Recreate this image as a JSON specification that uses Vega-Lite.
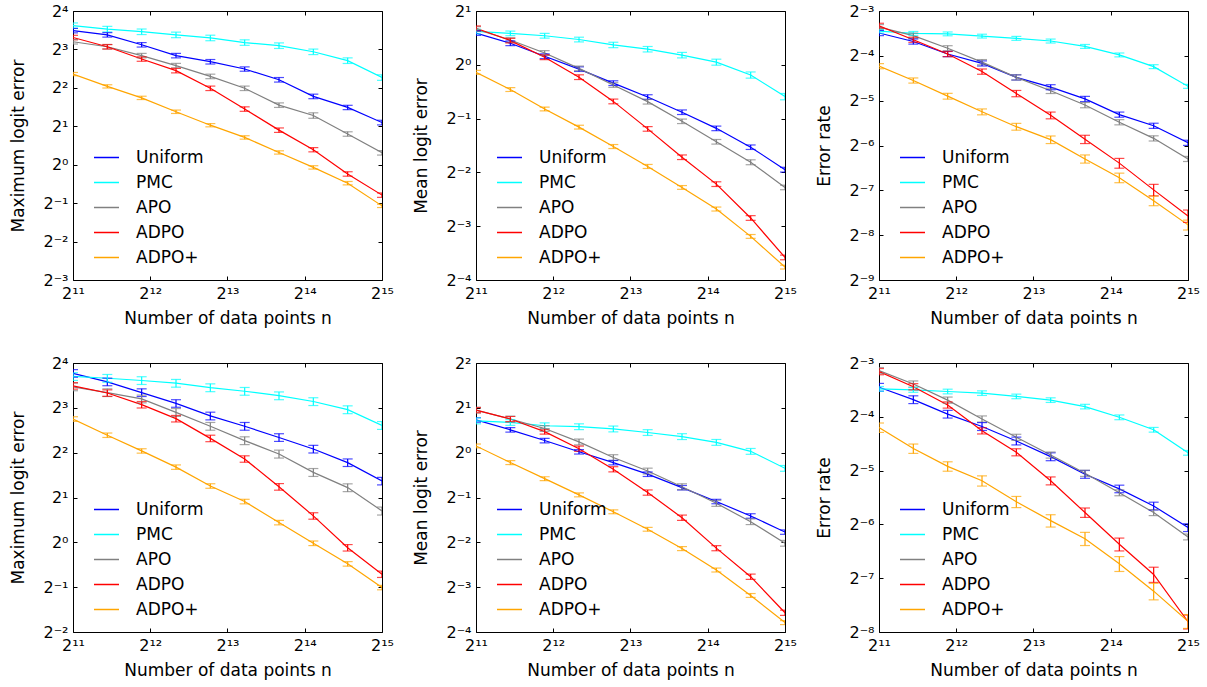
{
"$schema": "https://vega.github.io/schema/vega-lite/v6.json",
"background": "white",
"padding": {"left": 9, "top": 2, "right": 5, "bottom": 5},
"config": {
  "font": "DejaVu Sans",
  "view": {"stroke": "black", "strokeWidth": 1},
  "axis": {"grid": false, "domain": false, "tickColor": "black", "tickSize": -4, "tickWidth": 1, "labelFont": "DejaVu Sans", "labelFontSize": 16, "labelColor": "black", "titleFont": "DejaVu Sans", "titleFontSize": 17, "titleFontWeight": "normal", "titleColor": "black", "labelPadding": 9},
  "axisX": {"titlePadding": 9},
  "axisY": {"titlePadding": 15},
  "legend": {"labelFont": "DejaVu Sans", "labelFontSize": 17, "labelColor": "black"}
},
"data": {"values": [
{"p":1,"s":"Uniform","n":2048,"y":11.24,"e":0.45},{"p":1,"s":"Uniform","n":2787,"y":10.41,"e":0.42},{"p":1,"s":"Uniform","n":3792,"y":8.70,"e":0.35},{"p":1,"s":"Uniform","n":5161,"y":7.16,"e":0.29},{"p":1,"s":"Uniform","n":7023,"y":6.41,"e":0.26},{"p":1,"s":"Uniform","n":9556,"y":5.62,"e":0.22},{"p":1,"s":"Uniform","n":13004,"y":4.63,"e":0.19},{"p":1,"s":"Uniform","n":17697,"y":3.43,"e":0.14},{"p":1,"s":"Uniform","n":24080,"y":2.81,"e":0.11},{"p":1,"s":"Uniform","n":32768,"y":2.14,"e":0.09},
{"p":1,"s":"PMC","n":2048,"y":12.30,"e":0.6},{"p":1,"s":"PMC","n":2787,"y":11.55,"e":0.58},{"p":1,"s":"PMC","n":3792,"y":11.01,"e":0.55},{"p":1,"s":"PMC","n":5161,"y":10.41,"e":0.52},{"p":1,"s":"PMC","n":7023,"y":9.85,"e":0.49},{"p":1,"s":"PMC","n":9556,"y":9.06,"e":0.45},{"p":1,"s":"PMC","n":13004,"y":8.57,"e":0.43},{"p":1,"s":"PMC","n":17697,"y":7.67,"e":0.38},{"p":1,"s":"PMC","n":24080,"y":6.54,"e":0.33},{"p":1,"s":"PMC","n":32768,"y":4.82,"e":0.24},
{"p":1,"s":"APO","n":2048,"y":9.19,"e":0.37},{"p":1,"s":"APO","n":2787,"y":8.40,"e":0.34},{"p":1,"s":"APO","n":3792,"y":7.16,"e":0.29},{"p":1,"s":"APO","n":5161,"y":5.98,"e":0.24},{"p":1,"s":"APO","n":7023,"y":4.92,"e":0.2},{"p":1,"s":"APO","n":9556,"y":3.97,"e":0.16},{"p":1,"s":"APO","n":13004,"y":2.93,"e":0.12},{"p":1,"s":"APO","n":17697,"y":2.43,"e":0.12},{"p":1,"s":"APO","n":24080,"y":1.741,"e":0.07},{"p":1,"s":"APO","n":32768,"y":1.240,"e":0.05},
{"p":1,"s":"ADPO","n":2048,"y":9.92,"e":0.4},{"p":1,"s":"ADPO","n":2787,"y":8.40,"e":0.34},{"p":1,"s":"ADPO","n":3792,"y":6.73,"e":0.27},{"p":1,"s":"ADPO","n":5161,"y":5.46,"e":0.22},{"p":1,"s":"ADPO","n":7023,"y":3.97,"e":0.16},{"p":1,"s":"ADPO","n":9556,"y":2.73,"e":0.11},{"p":1,"s":"ADPO","n":13004,"y":1.866,"e":0.075},{"p":1,"s":"ADPO","n":17697,"y":1.311,"e":0.05},{"p":1,"s":"ADPO","n":24080,"y":0.847,"e":0.034},{"p":1,"s":"ADPO","n":32768,"y":0.578,"e":0.023},
{"p":1,"s":"ADPO+","n":2048,"y":5.13,"e":0.15},{"p":1,"s":"ADPO+","n":2787,"y":4.11,"e":0.12},{"p":1,"s":"ADPO+","n":3792,"y":3.34,"e":0.1},{"p":1,"s":"ADPO+","n":5161,"y":2.60,"e":0.08},{"p":1,"s":"ADPO+","n":7023,"y":2.04,"e":0.06},{"p":1,"s":"ADPO+","n":9556,"y":1.636,"e":0.05},{"p":1,"s":"ADPO+","n":13004,"y":1.248,"e":0.037},{"p":1,"s":"ADPO+","n":17697,"y":0.953,"e":0.029},{"p":1,"s":"ADPO+","n":24080,"y":0.717,"e":0.022},{"p":1,"s":"ADPO+","n":32768,"y":0.476,"e":0.014},

{"p":2,"s":"Uniform","n":2048,"y":1.505,"e":0.045},{"p":2,"s":"Uniform","n":2787,"y":1.320,"e":0.04},{"p":2,"s":"Uniform","n":3792,"y":1.117,"e":0.034},{"p":2,"s":"Uniform","n":5161,"y":0.946,"e":0.028},{"p":2,"s":"Uniform","n":7023,"y":0.790,"e":0.024},{"p":2,"s":"Uniform","n":9556,"y":0.660,"e":0.02},{"p":2,"s":"Uniform","n":13004,"y":0.543,"e":0.016},{"p":2,"s":"Uniform","n":17697,"y":0.441,"e":0.013},{"p":2,"s":"Uniform","n":24080,"y":0.346,"e":0.01},{"p":2,"s":"Uniform","n":32768,"y":0.259,"e":0.008},
{"p":2,"s":"PMC","n":2048,"y":1.537,"e":0.046},{"p":2,"s":"PMC","n":2787,"y":1.500,"e":0.045},{"p":2,"s":"PMC","n":3792,"y":1.454,"e":0.044},{"p":2,"s":"PMC","n":5161,"y":1.385,"e":0.042},{"p":2,"s":"PMC","n":7023,"y":1.292,"e":0.045},{"p":2,"s":"PMC","n":9556,"y":1.223,"e":0.043},{"p":2,"s":"PMC","n":13004,"y":1.133,"e":0.04},{"p":2,"s":"PMC","n":17697,"y":1.035,"e":0.04},{"p":2,"s":"PMC","n":24080,"y":0.877,"e":0.035},{"p":2,"s":"PMC","n":32768,"y":0.664,"e":0.027},
{"p":2,"s":"APO","n":2048,"y":1.586,"e":0.048},{"p":2,"s":"APO","n":2787,"y":1.376,"e":0.041},{"p":2,"s":"APO","n":3792,"y":1.165,"e":0.035},{"p":2,"s":"APO","n":5161,"y":0.955,"e":0.029},{"p":2,"s":"APO","n":7023,"y":0.771,"e":0.023},{"p":2,"s":"APO","n":9556,"y":0.622,"e":0.019},{"p":2,"s":"APO","n":13004,"y":0.483,"e":0.014},{"p":2,"s":"APO","n":17697,"y":0.371,"e":0.011},{"p":2,"s":"APO","n":24080,"y":0.285,"e":0.009},{"p":2,"s":"APO","n":32768,"y":0.206,"e":0.006},
{"p":2,"s":"ADPO","n":2048,"y":1.602,"e":0.048},{"p":2,"s":"ADPO","n":2787,"y":1.366,"e":0.041},{"p":2,"s":"ADPO","n":3792,"y":1.102,"e":0.033},{"p":2,"s":"ADPO","n":5161,"y":0.853,"e":0.026},{"p":2,"s":"ADPO","n":7023,"y":0.624,"e":0.019},{"p":2,"s":"ADPO","n":9556,"y":0.438,"e":0.013},{"p":2,"s":"ADPO","n":13004,"y":0.304,"e":0.009},{"p":2,"s":"ADPO","n":17697,"y":0.215,"e":0.0065},{"p":2,"s":"ADPO","n":24080,"y":0.139,"e":0.0042},{"p":2,"s":"ADPO","n":32768,"y":0.0836,"e":0.0025},
{"p":2,"s":"ADPO+","n":2048,"y":0.908,"e":0.023},{"p":2,"s":"ADPO+","n":2787,"y":0.727,"e":0.018},{"p":2,"s":"ADPO+","n":3792,"y":0.566,"e":0.014},{"p":2,"s":"ADPO+","n":5161,"y":0.448,"e":0.011},{"p":2,"s":"ADPO+","n":7023,"y":0.349,"e":0.009},{"p":2,"s":"ADPO+","n":9556,"y":0.270,"e":0.007},{"p":2,"s":"ADPO+","n":13004,"y":0.206,"e":0.005},{"p":2,"s":"ADPO+","n":17697,"y":0.156,"e":0.004},{"p":2,"s":"ADPO+","n":24080,"y":0.1096,"e":0.0027},{"p":2,"s":"ADPO+","n":32768,"y":0.0738,"e":0.0018},

{"p":3,"s":"Uniform","n":2048,"y":0.0890,"e":0.0036},{"p":3,"s":"Uniform","n":2787,"y":0.0780,"e":0.0031},{"p":3,"s":"Uniform","n":3792,"y":0.0643,"e":0.0026},{"p":3,"s":"Uniform","n":5161,"y":0.0556,"e":0.0022},{"p":3,"s":"Uniform","n":7023,"y":0.0448,"e":0.0018},{"p":3,"s":"Uniform","n":9556,"y":0.0385,"e":0.0015},{"p":3,"s":"Uniform","n":13004,"y":0.0321,"e":0.0013},{"p":3,"s":"Uniform","n":17697,"y":0.0252,"e":0.001},{"p":3,"s":"Uniform","n":24080,"y":0.0212,"e":0.00085},{"p":3,"s":"Uniform","n":32768,"y":0.0163,"e":0.00065},
{"p":3,"s":"PMC","n":2048,"y":0.0915,"e":0.0027},{"p":3,"s":"PMC","n":2787,"y":0.0884,"e":0.0027},{"p":3,"s":"PMC","n":3792,"y":0.0878,"e":0.0026},{"p":3,"s":"PMC","n":5161,"y":0.0848,"e":0.0025},{"p":3,"s":"PMC","n":7023,"y":0.0819,"e":0.0025},{"p":3,"s":"PMC","n":9556,"y":0.0786,"e":0.0024},{"p":3,"s":"PMC","n":13004,"y":0.0723,"e":0.0022},{"p":3,"s":"PMC","n":17697,"y":0.0634,"e":0.0019},{"p":3,"s":"PMC","n":24080,"y":0.0529,"e":0.0016},{"p":3,"s":"PMC","n":32768,"y":0.0390,"e":0.0012},
{"p":3,"s":"APO","n":2048,"y":0.0974,"e":0.0039},{"p":3,"s":"APO","n":2787,"y":0.0854,"e":0.0034},{"p":3,"s":"APO","n":3792,"y":0.0703,"e":0.0028},{"p":3,"s":"APO","n":5161,"y":0.0567,"e":0.0023},{"p":3,"s":"APO","n":7023,"y":0.0448,"e":0.0018},{"p":3,"s":"APO","n":9556,"y":0.0364,"e":0.0015},{"p":3,"s":"APO","n":13004,"y":0.0292,"e":0.0012},{"p":3,"s":"APO","n":17697,"y":0.0224,"e":0.0009},{"p":3,"s":"APO","n":24080,"y":0.01745,"e":0.0007},{"p":3,"s":"APO","n":32768,"y":0.0127,"e":0.0005},
{"p":3,"s":"ADPO","n":2048,"y":0.0994,"e":0.004},{"p":3,"s":"ADPO","n":2787,"y":0.0802,"e":0.0032},{"p":3,"s":"ADPO","n":3792,"y":0.0643,"e":0.0026},{"p":3,"s":"ADPO","n":5161,"y":0.0490,"e":0.002},{"p":3,"s":"ADPO","n":7023,"y":0.0349,"e":0.0017},{"p":3,"s":"ADPO","n":9556,"y":0.0249,"e":0.0013},{"p":3,"s":"ADPO","n":13004,"y":0.0172,"e":0.0011},{"p":3,"s":"ADPO","n":17697,"y":0.0119,"e":0.0009},{"p":3,"s":"ADPO","n":24080,"y":0.00787,"e":0.0007},{"p":3,"s":"ADPO","n":32768,"y":0.00526,"e":0.0005},
{"p":3,"s":"ADPO+","n":2048,"y":0.0533,"e":0.0021},{"p":3,"s":"ADPO+","n":2787,"y":0.0427,"e":0.0017},{"p":3,"s":"ADPO+","n":3792,"y":0.0335,"e":0.0015},{"p":3,"s":"ADPO+","n":5161,"y":0.0263,"e":0.0012},{"p":3,"s":"ADPO+","n":7023,"y":0.0209,"e":0.0011},{"p":3,"s":"ADPO+","n":9556,"y":0.0171,"e":0.001},{"p":3,"s":"ADPO+","n":13004,"y":0.0127,"e":0.0008},{"p":3,"s":"ADPO+","n":17697,"y":0.00949,"e":0.0007},{"p":3,"s":"ADPO+","n":24080,"y":0.00666,"e":0.0005},{"p":3,"s":"ADPO+","n":32768,"y":0.00458,"e":0.00035},

{"p":4,"s":"Uniform","n":2048,"y":13.64,"e":0.8},{"p":4,"s":"Uniform","n":2787,"y":11.96,"e":0.7},{"p":4,"s":"Uniform","n":3792,"y":10.13,"e":0.6},{"p":4,"s":"Uniform","n":5161,"y":8.57,"e":0.5},{"p":4,"s":"Uniform","n":7023,"y":7.06,"e":0.42},{"p":4,"s":"Uniform","n":9556,"y":6.02,"e":0.36},{"p":4,"s":"Uniform","n":13004,"y":5.06,"e":0.3},{"p":4,"s":"Uniform","n":17697,"y":4.23,"e":0.25},{"p":4,"s":"Uniform","n":24080,"y":3.43,"e":0.2},{"p":4,"s":"Uniform","n":32768,"y":2.58,"e":0.15},
{"p":4,"s":"PMC","n":2048,"y":13.0,"e":0.78},{"p":4,"s":"PMC","n":2787,"y":12.64,"e":0.76},{"p":4,"s":"PMC","n":3792,"y":12.21,"e":0.73},{"p":4,"s":"PMC","n":5161,"y":11.71,"e":0.7},{"p":4,"s":"PMC","n":7023,"y":10.93,"e":0.66},{"p":4,"s":"PMC","n":9556,"y":10.34,"e":0.62},{"p":4,"s":"PMC","n":13004,"y":9.65,"e":0.58},{"p":4,"s":"PMC","n":17697,"y":8.82,"e":0.53},{"p":4,"s":"PMC","n":24080,"y":7.78,"e":0.47},{"p":4,"s":"PMC","n":32768,"y":6.10,"e":0.37},
{"p":4,"s":"APO","n":2048,"y":11.08,"e":0.66},{"p":4,"s":"APO","n":2787,"y":10.13,"e":0.6},{"p":4,"s":"APO","n":3792,"y":9.19,"e":0.55},{"p":4,"s":"APO","n":5161,"y":7.46,"e":0.45},{"p":4,"s":"APO","n":7023,"y":6.02,"e":0.36},{"p":4,"s":"APO","n":9556,"y":4.82,"e":0.29},{"p":4,"s":"APO","n":13004,"y":3.92,"e":0.24},{"p":4,"s":"APO","n":17697,"y":2.95,"e":0.18},{"p":4,"s":"APO","n":24080,"y":2.33,"e":0.14},{"p":4,"s":"APO","n":32768,"y":1.625,"e":0.1},
{"p":4,"s":"ADPO","n":2048,"y":11.24,"e":0.56},{"p":4,"s":"ADPO","n":2787,"y":10.06,"e":0.5},{"p":4,"s":"ADPO","n":3792,"y":8.40,"e":0.42},{"p":4,"s":"ADPO","n":5161,"y":6.77,"e":0.34},{"p":4,"s":"ADPO","n":7023,"y":4.99,"e":0.25},{"p":4,"s":"ADPO","n":9556,"y":3.63,"e":0.18},{"p":4,"s":"ADPO","n":13004,"y":2.36,"e":0.12},{"p":4,"s":"ADPO","n":17697,"y":1.505,"e":0.075},{"p":4,"s":"ADPO","n":24080,"y":0.920,"e":0.046},{"p":4,"s":"ADPO","n":32768,"y":0.611,"e":0.03},
{"p":4,"s":"ADPO+","n":2048,"y":6.73,"e":0.24},{"p":4,"s":"ADPO+","n":2787,"y":5.24,"e":0.18},{"p":4,"s":"ADPO+","n":3792,"y":4.11,"e":0.14},{"p":4,"s":"ADPO+","n":5161,"y":3.20,"e":0.11},{"p":4,"s":"ADPO+","n":7023,"y":2.39,"e":0.084},{"p":4,"s":"ADPO+","n":9556,"y":1.879,"e":0.066},{"p":4,"s":"ADPO+","n":13004,"y":1.357,"e":0.047},{"p":4,"s":"ADPO+","n":17697,"y":0.986,"e":0.035},{"p":4,"s":"ADPO+","n":24080,"y":0.717,"e":0.025},{"p":4,"s":"ADPO+","n":32768,"y":0.497,"e":0.017},

{"p":5,"s":"Uniform","n":2048,"y":1.659,"e":0.058},{"p":5,"s":"Uniform","n":2787,"y":1.424,"e":0.05},{"p":5,"s":"Uniform","n":3792,"y":1.206,"e":0.042},{"p":5,"s":"Uniform","n":5161,"y":1.014,"e":0.035},{"p":5,"s":"Uniform","n":7023,"y":0.858,"e":0.03},{"p":5,"s":"Uniform","n":9556,"y":0.717,"e":0.025},{"p":5,"s":"Uniform","n":13004,"y":0.582,"e":0.02},{"p":5,"s":"Uniform","n":17697,"y":0.470,"e":0.016},{"p":5,"s":"Uniform","n":24080,"y":0.376,"e":0.013},{"p":5,"s":"Uniform","n":32768,"y":0.293,"e":0.01},
{"p":5,"s":"PMC","n":2048,"y":1.636,"e":0.074},{"p":5,"s":"PMC","n":2787,"y":1.597,"e":0.072},{"p":5,"s":"PMC","n":3792,"y":1.516,"e":0.068},{"p":5,"s":"PMC","n":5161,"y":1.495,"e":0.067},{"p":5,"s":"PMC","n":7023,"y":1.444,"e":0.065},{"p":5,"s":"PMC","n":9556,"y":1.366,"e":0.061},{"p":5,"s":"PMC","n":13004,"y":1.283,"e":0.058},{"p":5,"s":"PMC","n":17697,"y":1.173,"e":0.053},{"p":5,"s":"PMC","n":24080,"y":1.021,"e":0.046},{"p":5,"s":"PMC","n":32768,"y":0.785,"e":0.035},
{"p":5,"s":"APO","n":2048,"y":1.932,"e":0.087},{"p":5,"s":"APO","n":2787,"y":1.682,"e":0.076},{"p":5,"s":"APO","n":3792,"y":1.454,"e":0.065},{"p":5,"s":"APO","n":5161,"y":1.181,"e":0.053},{"p":5,"s":"APO","n":7023,"y":0.927,"e":0.042},{"p":5,"s":"APO","n":9556,"y":0.753,"e":0.034},{"p":5,"s":"APO","n":13004,"y":0.591,"e":0.027},{"p":5,"s":"APO","n":17697,"y":0.457,"e":0.021},{"p":5,"s":"APO","n":24080,"y":0.344,"e":0.015},{"p":5,"s":"APO","n":32768,"y":0.2466,"e":0.011},
{"p":5,"s":"ADPO","n":2048,"y":1.932,"e":0.077},{"p":5,"s":"ADPO","n":2787,"y":1.682,"e":0.067},{"p":5,"s":"ADPO","n":3792,"y":1.385,"e":0.055},{"p":5,"s":"ADPO","n":5161,"y":1.064,"e":0.043},{"p":5,"s":"ADPO","n":7023,"y":0.774,"e":0.031},{"p":5,"s":"ADPO","n":9556,"y":0.540,"e":0.022},{"p":5,"s":"ADPO","n":13004,"y":0.366,"e":0.015},{"p":5,"s":"ADPO","n":17697,"y":0.2285,"e":0.009},{"p":5,"s":"ADPO","n":24080,"y":0.147,"e":0.006},{"p":5,"s":"ADPO","n":32768,"y":0.0842,"e":0.0034},
{"p":5,"s":"ADPO+","n":2048,"y":1.110,"e":0.033},{"p":5,"s":"ADPO+","n":2787,"y":0.858,"e":0.026},{"p":5,"s":"ADPO+","n":3792,"y":0.669,"e":0.02},{"p":5,"s":"ADPO+","n":5161,"y":0.521,"e":0.016},{"p":5,"s":"ADPO+","n":7023,"y":0.401,"e":0.012},{"p":5,"s":"ADPO+","n":9556,"y":0.306,"e":0.009},{"p":5,"s":"ADPO+","n":13004,"y":0.227,"e":0.007},{"p":5,"s":"ADPO+","n":17697,"y":0.163,"e":0.005},{"p":5,"s":"ADPO+","n":24080,"y":0.110,"e":0.0033},{"p":5,"s":"ADPO+","n":32768,"y":0.0723,"e":0.0022},

{"p":6,"s":"Uniform","n":2048,"y":0.0915,"e":0.0046},{"p":6,"s":"Uniform","n":2787,"y":0.0780,"e":0.0039},{"p":6,"s":"Uniform","n":3792,"y":0.0647,"e":0.0032},{"p":6,"s":"Uniform","n":5161,"y":0.0552,"e":0.0028},{"p":6,"s":"Uniform","n":7023,"y":0.0458,"e":0.0023},{"p":6,"s":"Uniform","n":9556,"y":0.0374,"e":0.0019},{"p":6,"s":"Uniform","n":13004,"y":0.0298,"e":0.0015},{"p":6,"s":"Uniform","n":17697,"y":0.0247,"e":0.0012},{"p":6,"s":"Uniform","n":24080,"y":0.0198,"e":0.001},{"p":6,"s":"Uniform","n":32768,"y":0.0150,"e":0.00075},
{"p":6,"s":"PMC","n":2048,"y":0.0896,"e":0.0027},{"p":6,"s":"PMC","n":2787,"y":0.0884,"e":0.0027},{"p":6,"s":"PMC","n":3792,"y":0.0866,"e":0.0026},{"p":6,"s":"PMC","n":5161,"y":0.0848,"e":0.0025},{"p":6,"s":"PMC","n":7023,"y":0.0813,"e":0.0024},{"p":6,"s":"PMC","n":9556,"y":0.0775,"e":0.0023},{"p":6,"s":"PMC","n":13004,"y":0.0713,"e":0.0021},{"p":6,"s":"PMC","n":17697,"y":0.0621,"e":0.0019},{"p":6,"s":"PMC","n":24080,"y":0.0529,"e":0.0016},{"p":6,"s":"PMC","n":32768,"y":0.0393,"e":0.0012},
{"p":6,"s":"APO","n":2048,"y":0.1134,"e":0.0045},{"p":6,"s":"APO","n":2787,"y":0.0954,"e":0.0038},{"p":6,"s":"APO","n":3792,"y":0.0775,"e":0.0031},{"p":6,"s":"APO","n":5161,"y":0.0608,"e":0.0024},{"p":6,"s":"APO","n":7023,"y":0.0480,"e":0.0019},{"p":6,"s":"APO","n":9556,"y":0.0382,"e":0.0015},{"p":6,"s":"APO","n":13004,"y":0.0302,"e":0.0012},{"p":6,"s":"APO","n":17697,"y":0.0235,"e":0.0009},{"p":6,"s":"APO","n":24080,"y":0.0182,"e":0.0007},{"p":6,"s":"APO","n":32768,"y":0.0133,"e":0.0005},
{"p":6,"s":"ADPO","n":2048,"y":0.1119,"e":0.0045},{"p":6,"s":"ADPO","n":2787,"y":0.0921,"e":0.0037},{"p":6,"s":"ADPO","n":3792,"y":0.0728,"e":0.0029},{"p":6,"s":"ADPO","n":5161,"y":0.0522,"e":0.0021},{"p":6,"s":"ADPO","n":7023,"y":0.0396,"e":0.0018},{"p":6,"s":"ADPO","n":9556,"y":0.0274,"e":0.0014},{"p":6,"s":"ADPO","n":13004,"y":0.0182,"e":0.0011},{"p":6,"s":"ADPO","n":17697,"y":0.0121,"e":0.001},{"p":6,"s":"ADPO","n":24080,"y":0.00820,"e":0.0008},{"p":6,"s":"ADPO","n":32768,"y":0.00446,"e":0.0004},
{"p":6,"s":"ADPO+","n":2048,"y":0.0544,"e":0.0033},{"p":6,"s":"ADPO+","n":2787,"y":0.0415,"e":0.0025},{"p":6,"s":"ADPO+","n":3792,"y":0.0330,"e":0.002},{"p":6,"s":"ADPO+","n":5161,"y":0.0274,"e":0.0018},{"p":6,"s":"ADPO+","n":7023,"y":0.0209,"e":0.0015},{"p":6,"s":"ADPO+","n":9556,"y":0.0164,"e":0.0013},{"p":6,"s":"ADPO+","n":13004,"y":0.0130,"e":0.0011},{"p":6,"s":"ADPO+","n":17697,"y":0.00942,"e":0.0009},{"p":6,"s":"ADPO+","n":24080,"y":0.00661,"e":0.0007},{"p":6,"s":"ADPO+","n":32768,"y":0.00449,"e":0.0004}
]},
"columns": 3,
"spacing": {"row": 83, "column": 94},
"bounds": "flush",
"resolve": {"scale": {"x": "independent", "y": "independent", "color": "independent"}, "legend": {"color": "independent"}},
"concat": [
{"width": 309, "height": 269, "transform": [{"filter": "datum.p == 1"}], "layer": [
 {"mark": {"type": "line", "strokeWidth": 1.2, "clip": true}, "encoding": {
  "x": {"field": "n", "type": "quantitative", "scale": {"type": "log", "base": 2, "domain": [2048, 32768], "nice": false}, "axis": {"orient": "bottom", "values": [2048, 4096, 8192, 16384, 32768], "title": "Number of data points n", "labelFlush": false, "labelOverlap": false, "labelExpr": "'2' + (log(datum.value)/LN2 < -0.5 ? '⁻' : '') + (abs(round(log(datum.value)/LN2)) >= 10 ? '¹' : '') + slice('⁰¹²³⁴⁵⁶⁷⁸⁹', abs(round(log(datum.value)/LN2)) % 10, abs(round(log(datum.value)/LN2)) % 10 + 1)"}},
  "y": {"field": "y", "type": "quantitative", "scale": {"type": "log", "base": 2, "domain": [0.125, 16], "nice": false}, "axis": {"orient": "left", "values": [0.125, 0.25, 0.5, 1, 2, 4, 8, 16], "title": "Maximum logit error", "labelFlush": false, "labelOverlap": false, "labelExpr": "'2' + (log(datum.value)/LN2 < -0.5 ? '⁻' : '') + (abs(round(log(datum.value)/LN2)) >= 10 ? '¹' : '') + slice('⁰¹²³⁴⁵⁶⁷⁸⁹', abs(round(log(datum.value)/LN2)) % 10, abs(round(log(datum.value)/LN2)) % 10 + 1)"}},
  "color": {"field": "s", "type": "nominal", "scale": {"domain": ["Uniform", "PMC", "APO", "ADPO", "ADPO+"], "range": ["#0000ff", "#00ffff", "#808080", "#ff0000", "#ffa500"]}, "legend": {"title": null, "orient": "none", "legendX": 20, "legendY": 133, "symbolType": "stroke", "symbolSize": 625, "symbolStrokeWidth": 1.5, "labelOffset": 16, "rowPadding": 3, "padding": 0}}}},
 {"mark": {"type": "errorbar", "ticks": true, "size": 10, "thickness": 1.2, "clip": true}, "encoding": {
  "x": {"field": "n", "type": "quantitative", "scale": {"type": "log", "base": 2, "domain": [2048, 32768], "nice": false}, "axis": {"orient": "top", "labels": false, "title": null, "values": [2048, 4096, 8192, 16384, 32768]}},
  "y": {"field": "y", "type": "quantitative", "scale": {"type": "log", "base": 2, "domain": [0.125, 16], "nice": false}, "axis": {"orient": "right", "labels": false, "title": null, "values": [0.125, 0.25, 0.5, 1, 2, 4, 8, 16]}},
  "yError": {"field": "e"},
  "color": {"field": "s", "type": "nominal", "scale": {"domain": ["Uniform", "PMC", "APO", "ADPO", "ADPO+"], "range": ["#0000ff", "#00ffff", "#808080", "#ff0000", "#ffa500"]}, "legend": null}}}
]},
{"width": 309, "height": 269, "transform": [{"filter": "datum.p == 2"}], "layer": [
 {"mark": {"type": "line", "strokeWidth": 1.2, "clip": true}, "encoding": {
  "x": {"field": "n", "type": "quantitative", "scale": {"type": "log", "base": 2, "domain": [2048, 32768], "nice": false}, "axis": {"orient": "bottom", "values": [2048, 4096, 8192, 16384, 32768], "title": "Number of data points n", "labelFlush": false, "labelOverlap": false, "labelExpr": "'2' + (log(datum.value)/LN2 < -0.5 ? '⁻' : '') + (abs(round(log(datum.value)/LN2)) >= 10 ? '¹' : '') + slice('⁰¹²³⁴⁵⁶⁷⁸⁹', abs(round(log(datum.value)/LN2)) % 10, abs(round(log(datum.value)/LN2)) % 10 + 1)"}},
  "y": {"field": "y", "type": "quantitative", "scale": {"type": "log", "base": 2, "domain": [0.0625, 2], "nice": false}, "axis": {"orient": "left", "values": [0.0625, 0.125, 0.25, 0.5, 1, 2], "title": "Mean logit error", "labelFlush": false, "labelOverlap": false, "labelExpr": "'2' + (log(datum.value)/LN2 < -0.5 ? '⁻' : '') + (abs(round(log(datum.value)/LN2)) >= 10 ? '¹' : '') + slice('⁰¹²³⁴⁵⁶⁷⁸⁹', abs(round(log(datum.value)/LN2)) % 10, abs(round(log(datum.value)/LN2)) % 10 + 1)"}},
  "color": {"field": "s", "type": "nominal", "scale": {"domain": ["Uniform", "PMC", "APO", "ADPO", "ADPO+"], "range": ["#0000ff", "#00ffff", "#808080", "#ff0000", "#ffa500"]}, "legend": {"title": null, "orient": "none", "legendX": 20, "legendY": 133, "symbolType": "stroke", "symbolSize": 625, "symbolStrokeWidth": 1.5, "labelOffset": 16, "rowPadding": 3, "padding": 0}}}},
 {"mark": {"type": "errorbar", "ticks": true, "size": 10, "thickness": 1.2, "clip": true}, "encoding": {
  "x": {"field": "n", "type": "quantitative", "scale": {"type": "log", "base": 2, "domain": [2048, 32768], "nice": false}, "axis": {"orient": "top", "labels": false, "title": null, "values": [2048, 4096, 8192, 16384, 32768]}},
  "y": {"field": "y", "type": "quantitative", "scale": {"type": "log", "base": 2, "domain": [0.0625, 2], "nice": false}, "axis": {"orient": "right", "labels": false, "title": null, "values": [0.0625, 0.125, 0.25, 0.5, 1, 2]}},
  "yError": {"field": "e"},
  "color": {"field": "s", "type": "nominal", "scale": {"domain": ["Uniform", "PMC", "APO", "ADPO", "ADPO+"], "range": ["#0000ff", "#00ffff", "#808080", "#ff0000", "#ffa500"]}, "legend": null}}}
]},
{"width": 309, "height": 269, "transform": [{"filter": "datum.p == 3"}], "layer": [
 {"mark": {"type": "line", "strokeWidth": 1.2, "clip": true}, "encoding": {
  "x": {"field": "n", "type": "quantitative", "scale": {"type": "log", "base": 2, "domain": [2048, 32768], "nice": false}, "axis": {"orient": "bottom", "values": [2048, 4096, 8192, 16384, 32768], "title": "Number of data points n", "labelFlush": false, "labelOverlap": false, "labelExpr": "'2' + (log(datum.value)/LN2 < -0.5 ? '⁻' : '') + (abs(round(log(datum.value)/LN2)) >= 10 ? '¹' : '') + slice('⁰¹²³⁴⁵⁶⁷⁸⁹', abs(round(log(datum.value)/LN2)) % 10, abs(round(log(datum.value)/LN2)) % 10 + 1)"}},
  "y": {"field": "y", "type": "quantitative", "scale": {"type": "log", "base": 2, "domain": [0.001953125, 0.125], "nice": false}, "axis": {"orient": "left", "values": [0.001953125, 0.00390625, 0.0078125, 0.015625, 0.03125, 0.0625, 0.125], "title": "Error rate", "labelFlush": false, "labelOverlap": false, "labelExpr": "'2' + (log(datum.value)/LN2 < -0.5 ? '⁻' : '') + (abs(round(log(datum.value)/LN2)) >= 10 ? '¹' : '') + slice('⁰¹²³⁴⁵⁶⁷⁸⁹', abs(round(log(datum.value)/LN2)) % 10, abs(round(log(datum.value)/LN2)) % 10 + 1)"}},
  "color": {"field": "s", "type": "nominal", "scale": {"domain": ["Uniform", "PMC", "APO", "ADPO", "ADPO+"], "range": ["#0000ff", "#00ffff", "#808080", "#ff0000", "#ffa500"]}, "legend": {"title": null, "orient": "none", "legendX": 20, "legendY": 133, "symbolType": "stroke", "symbolSize": 625, "symbolStrokeWidth": 1.5, "labelOffset": 16, "rowPadding": 3, "padding": 0}}}},
 {"mark": {"type": "errorbar", "ticks": true, "size": 10, "thickness": 1.2, "clip": true}, "encoding": {
  "x": {"field": "n", "type": "quantitative", "scale": {"type": "log", "base": 2, "domain": [2048, 32768], "nice": false}, "axis": {"orient": "top", "labels": false, "title": null, "values": [2048, 4096, 8192, 16384, 32768]}},
  "y": {"field": "y", "type": "quantitative", "scale": {"type": "log", "base": 2, "domain": [0.001953125, 0.125], "nice": false}, "axis": {"orient": "right", "labels": false, "title": null, "values": [0.001953125, 0.00390625, 0.0078125, 0.015625, 0.03125, 0.0625, 0.125]}},
  "yError": {"field": "e"},
  "color": {"field": "s", "type": "nominal", "scale": {"domain": ["Uniform", "PMC", "APO", "ADPO", "ADPO+"], "range": ["#0000ff", "#00ffff", "#808080", "#ff0000", "#ffa500"]}, "legend": null}}}
]},
{"width": 309, "height": 269, "transform": [{"filter": "datum.p == 4"}], "layer": [
 {"mark": {"type": "line", "strokeWidth": 1.2, "clip": true}, "encoding": {
  "x": {"field": "n", "type": "quantitative", "scale": {"type": "log", "base": 2, "domain": [2048, 32768], "nice": false}, "axis": {"orient": "bottom", "values": [2048, 4096, 8192, 16384, 32768], "title": "Number of data points n", "labelFlush": false, "labelOverlap": false, "labelExpr": "'2' + (log(datum.value)/LN2 < -0.5 ? '⁻' : '') + (abs(round(log(datum.value)/LN2)) >= 10 ? '¹' : '') + slice('⁰¹²³⁴⁵⁶⁷⁸⁹', abs(round(log(datum.value)/LN2)) % 10, abs(round(log(datum.value)/LN2)) % 10 + 1)"}},
  "y": {"field": "y", "type": "quantitative", "scale": {"type": "log", "base": 2, "domain": [0.25, 16], "nice": false}, "axis": {"orient": "left", "values": [0.25, 0.5, 1, 2, 4, 8, 16], "title": "Maximum logit error", "labelFlush": false, "labelOverlap": false, "labelExpr": "'2' + (log(datum.value)/LN2 < -0.5 ? '⁻' : '') + (abs(round(log(datum.value)/LN2)) >= 10 ? '¹' : '') + slice('⁰¹²³⁴⁵⁶⁷⁸⁹', abs(round(log(datum.value)/LN2)) % 10, abs(round(log(datum.value)/LN2)) % 10 + 1)"}},
  "color": {"field": "s", "type": "nominal", "scale": {"domain": ["Uniform", "PMC", "APO", "ADPO", "ADPO+"], "range": ["#0000ff", "#00ffff", "#808080", "#ff0000", "#ffa500"]}, "legend": {"title": null, "orient": "none", "legendX": 20, "legendY": 133, "symbolType": "stroke", "symbolSize": 625, "symbolStrokeWidth": 1.5, "labelOffset": 16, "rowPadding": 3, "padding": 0}}}},
 {"mark": {"type": "errorbar", "ticks": true, "size": 10, "thickness": 1.2, "clip": true}, "encoding": {
  "x": {"field": "n", "type": "quantitative", "scale": {"type": "log", "base": 2, "domain": [2048, 32768], "nice": false}, "axis": {"orient": "top", "labels": false, "title": null, "values": [2048, 4096, 8192, 16384, 32768]}},
  "y": {"field": "y", "type": "quantitative", "scale": {"type": "log", "base": 2, "domain": [0.25, 16], "nice": false}, "axis": {"orient": "right", "labels": false, "title": null, "values": [0.25, 0.5, 1, 2, 4, 8, 16]}},
  "yError": {"field": "e"},
  "color": {"field": "s", "type": "nominal", "scale": {"domain": ["Uniform", "PMC", "APO", "ADPO", "ADPO+"], "range": ["#0000ff", "#00ffff", "#808080", "#ff0000", "#ffa500"]}, "legend": null}}}
]},
{"width": 309, "height": 269, "transform": [{"filter": "datum.p == 5"}], "layer": [
 {"mark": {"type": "line", "strokeWidth": 1.2, "clip": true}, "encoding": {
  "x": {"field": "n", "type": "quantitative", "scale": {"type": "log", "base": 2, "domain": [2048, 32768], "nice": false}, "axis": {"orient": "bottom", "values": [2048, 4096, 8192, 16384, 32768], "title": "Number of data points n", "labelFlush": false, "labelOverlap": false, "labelExpr": "'2' + (log(datum.value)/LN2 < -0.5 ? '⁻' : '') + (abs(round(log(datum.value)/LN2)) >= 10 ? '¹' : '') + slice('⁰¹²³⁴⁵⁶⁷⁸⁹', abs(round(log(datum.value)/LN2)) % 10, abs(round(log(datum.value)/LN2)) % 10 + 1)"}},
  "y": {"field": "y", "type": "quantitative", "scale": {"type": "log", "base": 2, "domain": [0.0625, 4], "nice": false}, "axis": {"orient": "left", "values": [0.0625, 0.125, 0.25, 0.5, 1, 2, 4], "title": "Mean logit error", "labelFlush": false, "labelOverlap": false, "labelExpr": "'2' + (log(datum.value)/LN2 < -0.5 ? '⁻' : '') + (abs(round(log(datum.value)/LN2)) >= 10 ? '¹' : '') + slice('⁰¹²³⁴⁵⁶⁷⁸⁹', abs(round(log(datum.value)/LN2)) % 10, abs(round(log(datum.value)/LN2)) % 10 + 1)"}},
  "color": {"field": "s", "type": "nominal", "scale": {"domain": ["Uniform", "PMC", "APO", "ADPO", "ADPO+"], "range": ["#0000ff", "#00ffff", "#808080", "#ff0000", "#ffa500"]}, "legend": {"title": null, "orient": "none", "legendX": 20, "legendY": 133, "symbolType": "stroke", "symbolSize": 625, "symbolStrokeWidth": 1.5, "labelOffset": 16, "rowPadding": 3, "padding": 0}}}},
 {"mark": {"type": "errorbar", "ticks": true, "size": 10, "thickness": 1.2, "clip": true}, "encoding": {
  "x": {"field": "n", "type": "quantitative", "scale": {"type": "log", "base": 2, "domain": [2048, 32768], "nice": false}, "axis": {"orient": "top", "labels": false, "title": null, "values": [2048, 4096, 8192, 16384, 32768]}},
  "y": {"field": "y", "type": "quantitative", "scale": {"type": "log", "base": 2, "domain": [0.0625, 4], "nice": false}, "axis": {"orient": "right", "labels": false, "title": null, "values": [0.0625, 0.125, 0.25, 0.5, 1, 2, 4]}},
  "yError": {"field": "e"},
  "color": {"field": "s", "type": "nominal", "scale": {"domain": ["Uniform", "PMC", "APO", "ADPO", "ADPO+"], "range": ["#0000ff", "#00ffff", "#808080", "#ff0000", "#ffa500"]}, "legend": null}}}
]},
{"width": 309, "height": 269, "transform": [{"filter": "datum.p == 6"}], "layer": [
 {"mark": {"type": "line", "strokeWidth": 1.2, "clip": true}, "encoding": {
  "x": {"field": "n", "type": "quantitative", "scale": {"type": "log", "base": 2, "domain": [2048, 32768], "nice": false}, "axis": {"orient": "bottom", "values": [2048, 4096, 8192, 16384, 32768], "title": "Number of data points n", "labelFlush": false, "labelOverlap": false, "labelExpr": "'2' + (log(datum.value)/LN2 < -0.5 ? '⁻' : '') + (abs(round(log(datum.value)/LN2)) >= 10 ? '¹' : '') + slice('⁰¹²³⁴⁵⁶⁷⁸⁹', abs(round(log(datum.value)/LN2)) % 10, abs(round(log(datum.value)/LN2)) % 10 + 1)"}},
  "y": {"field": "y", "type": "quantitative", "scale": {"type": "log", "base": 2, "domain": [0.00390625, 0.125], "nice": false}, "axis": {"orient": "left", "values": [0.00390625, 0.0078125, 0.015625, 0.03125, 0.0625, 0.125], "title": "Error rate", "labelFlush": false, "labelOverlap": false, "labelExpr": "'2' + (log(datum.value)/LN2 < -0.5 ? '⁻' : '') + (abs(round(log(datum.value)/LN2)) >= 10 ? '¹' : '') + slice('⁰¹²³⁴⁵⁶⁷⁸⁹', abs(round(log(datum.value)/LN2)) % 10, abs(round(log(datum.value)/LN2)) % 10 + 1)"}},
  "color": {"field": "s", "type": "nominal", "scale": {"domain": ["Uniform", "PMC", "APO", "ADPO", "ADPO+"], "range": ["#0000ff", "#00ffff", "#808080", "#ff0000", "#ffa500"]}, "legend": {"title": null, "orient": "none", "legendX": 20, "legendY": 133, "symbolType": "stroke", "symbolSize": 625, "symbolStrokeWidth": 1.5, "labelOffset": 16, "rowPadding": 3, "padding": 0}}}},
 {"mark": {"type": "errorbar", "ticks": true, "size": 10, "thickness": 1.2, "clip": true}, "encoding": {
  "x": {"field": "n", "type": "quantitative", "scale": {"type": "log", "base": 2, "domain": [2048, 32768], "nice": false}, "axis": {"orient": "top", "labels": false, "title": null, "values": [2048, 4096, 8192, 16384, 32768]}},
  "y": {"field": "y", "type": "quantitative", "scale": {"type": "log", "base": 2, "domain": [0.00390625, 0.125], "nice": false}, "axis": {"orient": "right", "labels": false, "title": null, "values": [0.00390625, 0.0078125, 0.015625, 0.03125, 0.0625, 0.125]}},
  "yError": {"field": "e"},
  "color": {"field": "s", "type": "nominal", "scale": {"domain": ["Uniform", "PMC", "APO", "ADPO", "ADPO+"], "range": ["#0000ff", "#00ffff", "#808080", "#ff0000", "#ffa500"]}, "legend": null}}}
]}
]
}
